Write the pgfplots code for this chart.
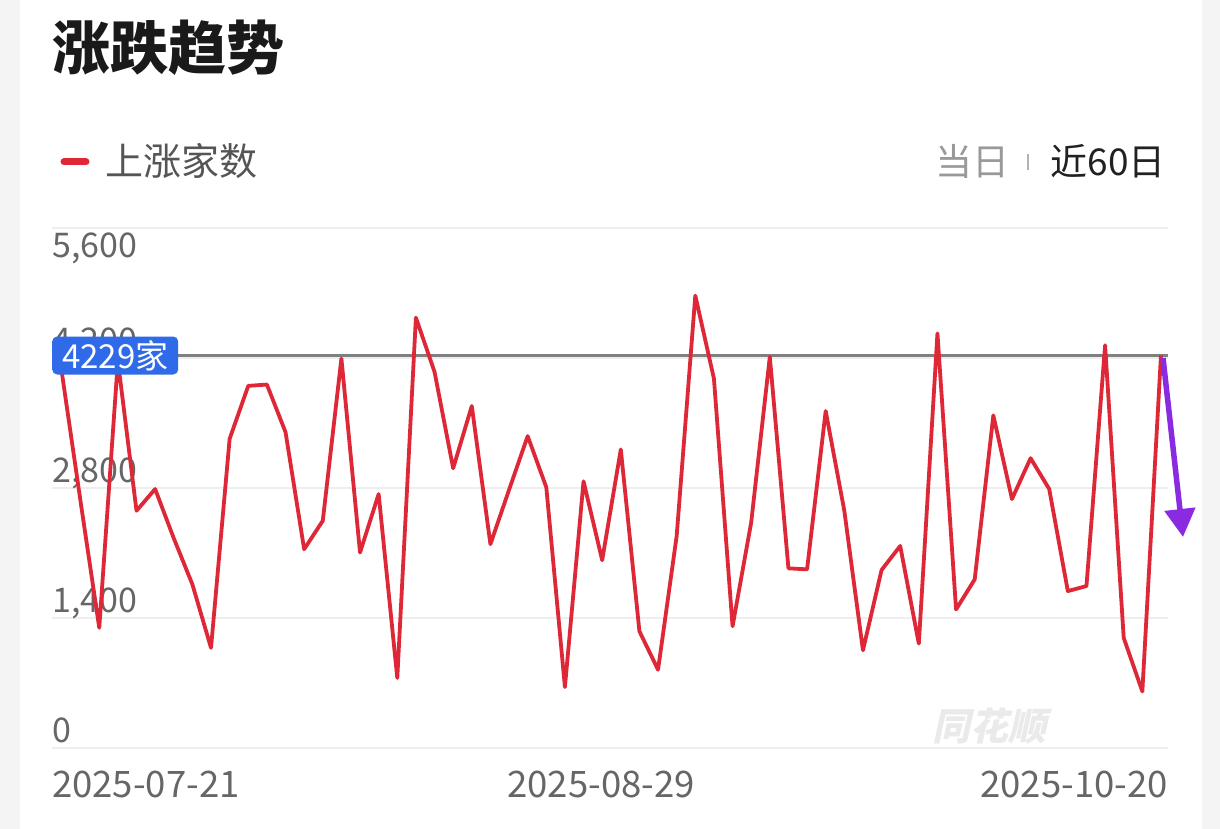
\documentclass[border=0pt]{standalone}
\usepackage{fontspec}
\setmainfont{Noto Sans CJK SC}
\usepackage{pgfplots}
\pgfplotsset{compat=1.18}
\usetikzlibrary{arrows.meta}
\definecolor{upred}{RGB}{222,40,56}
\definecolor{cardbg}{RGB}{244,244,244}
\definecolor{titlec}{RGB}{26,26,26}
\definecolor{legc}{RGB}{85,85,85}
\definecolor{tickc}{RGB}{102,102,102}
\definecolor{gridc}{RGB}{238,238,238}
\definecolor{refline}{RGB}{128,128,128}
\definecolor{labelblue}{RGB}{47,107,232}
\definecolor{arrowpurple}{RGB}{138,43,226}
\definecolor{wmc}{RGB}{234,234,234}
\begin{document}
\begin{tikzpicture}[x=1pt,y=1pt]
\useasboundingbox (0,0) rectangle (1220,-829);
\fill[cardbg] (0,0) rectangle (1220,-829);
\fill[white] (20,0) rectangle (1202,-829);
% title
\node[anchor=base west, inner sep=0pt, font=\fontsize{58}{60}\selectfont\bfseries, text=titlec] at (52,-70) {涨跌趋势};
% legend
\draw[upred, line width=7pt, line cap=round] (64,-162) -- (86,-162);
\node[anchor=base west, inner sep=0pt, font=\fontsize{38}{40}\selectfont, text=legc] at (105,-176) {上涨家数};
\node[anchor=base west, inner sep=0pt, font=\fontsize{37}{40}\selectfont, text=black!40] at (935,-176) {当日};
\draw[black!30, line width=2pt] (1028,-154) -- (1028,-170);
\node[anchor=base east, inner sep=0pt, font=\fontsize{37}{40}\selectfont, text=black!87] at (1166,-176) {近60日};
% watermark
\begin{scope}[xslant=0.22]
\node[anchor=base west, inner sep=0pt, font=\fontsize{38}{40}\selectfont\bfseries, text=wmc, transform shape] at (935+160,-740) {同花顺};
\end{scope}
\begin{axis}[
  at={(52pt,-748pt)}, anchor=south west,
  width=1116pt, height=520pt, scale only axis,
  xmin=-0.537, xmax=59.376, ymin=0, ymax=5600,
  axis line style={draw=none},
  major tick length=0pt,
  xtick=\empty,
  ytick={0,1400,2800,4200},
  extra y ticks={5600},
  extra y tick style={yticklabel style={anchor=north west, yshift=-11pt}},
  ymajorgrids,
  grid style={color=gridc, line width=1.5pt},
  /pgf/number format/1000 sep={,},
  /pgf/number format/assume math mode=true,
  yticklabel style={anchor=base west, inner sep=0pt, yshift=6pt, text=tickc, font=\fontsize{34}{36}\selectfont},
  clip=true,
]
\addplot[refline, line width=3.5pt] coordinates {(-0.537,4229) (59.376,4229)};
\addplot[upred, line width=3.8pt, line join=round] coordinates {
(0,4032) (1,2650) (2,1294) (3,4170) (4,2555) (5,2789) (6,2259) (7,1762) (8,1078) (9,3330)
(10,3900) (11,3914) (12,3402) (13,2141) (14,2447) (15,4195) (16,2105) (17,2735) (18,754) (19,4635)
(20,4051) (21,3013) (22,3683) (23,2195) (24,2780) (25,3359) (26,2808) (27,656) (28,2872) (29,2022)
(30,3216) (31,1257) (32,843) (33,2284) (34,4872) (35,3978) (36,1311) (37,2429) (38,4213) (39,1935)
(40,1924) (41,3629) (42,2555) (43,1052) (44,1917) (45,2176) (46,1124) (47,4465) (48,1492) (49,1816)
(50,3582) (51,2681) (52,3121) (53,2789) (54,1690) (55,1744) (56,4338) (57,1186) (58,609) (59,4229)
};
\end{axis}
% value label
\node[fill=labelblue, rounded corners=5pt, text=white, font=\fontsize{33}{35}\selectfont,
  minimum width=126pt, minimum height=38pt, inner sep=0pt, anchor=west] at (52,-355.5) {4229家};
% x labels
\node[anchor=base west, inner sep=0pt, font=\fontsize{36.5}{38}\selectfont, text=tickc] at (52,-797) {2025-07-21};
\node[anchor=base, inner sep=0pt, font=\fontsize{36.5}{38}\selectfont, text=tickc] at (601,-797) {2025-08-29};
\node[anchor=base east, inner sep=0pt, font=\fontsize{36.5}{38}\selectfont, text=tickc] at (1168,-797) {2025-10-20};
% annotation arrow
\draw[arrowpurple, line width=5.5pt, -{Triangle[width=30pt,length=28pt]}] (1163,-358) -- (1183,-537);
\end{tikzpicture}
\end{document}
